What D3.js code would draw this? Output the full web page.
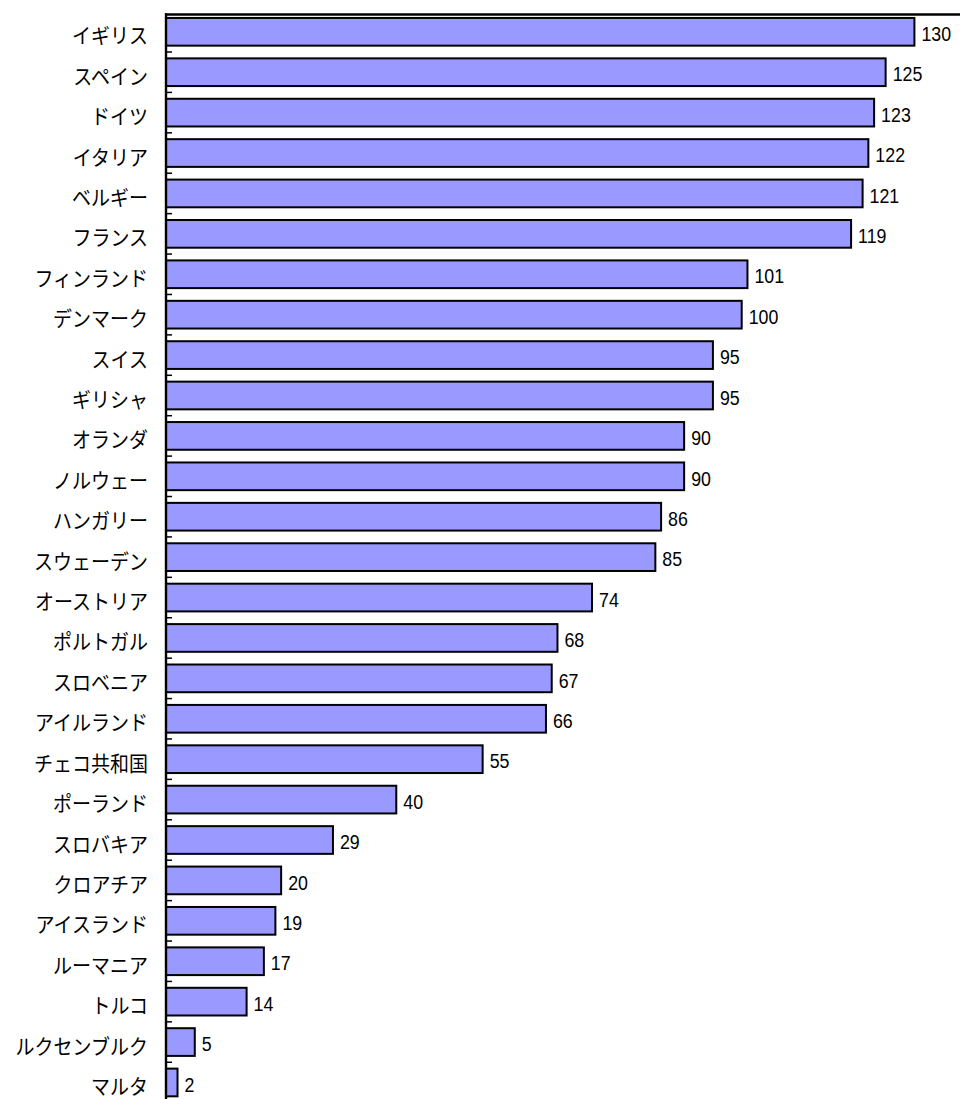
<!DOCTYPE html>
<html>
<head>
<meta charset="utf-8">
<script src="https://cdn.jsdelivr.net/npm/d3@7"></script>
<style>
  html, body { margin: 0; padding: 0; background: #ffffff; }
  svg { display: block; }
</style>
</head>
<body>
<svg id="chart" width="960" height="1099"></svg>
<script>
// Countries, top to bottom
const countries = [
  "イギリス", "スペイン", "ドイツ", "イタリア", "ベルギー", "フランス",
  "フィンランド", "デンマーク", "スイス", "ギリシャ", "オランダ", "ノルウェー",
  "ハンガリー", "スウェーデン", "オーストリア", "ポルトガル", "スロベニア",
  "アイルランド", "チェコ共和国", "ポーランド", "スロバキア", "クロアチア",
  "アイスランド", "ルーマニア", "トルコ", "ルクセンブルク", "マルタ"
];
// Value for each country
const values = [
  130, 125, 123, 122, 121, 119,
  101, 100, 95, 95, 90, 90,
  86, 85, 74, 68, 67,
  66, 55, 40, 29, 20,
  19, 17, 14, 5, 2
];

const data = countries.map((c, i) => ({ name: c, value: values[i] }));

const svg = d3.select("#chart");

const axisX = 166;
const plotTop = 11.6;
const step = 40.41;
const pad = 0.3145;

const y = d3.scaleBand()
  .domain(countries)
  .range([plotTop, plotTop + step * countries.length])
  .paddingInner(pad)
  .paddingOuter(pad / 2);

const x = d3.scaleLinear()
  .domain([0, 140])
  .range([axisX, axisX + 140 * 5.757]);

const textScaleY = 1.1;

// Bars
svg.append("g")
  .selectAll("rect")
  .data(data)
  .join("rect")
  .attr("x", x(0))
  .attr("y", d => y(d.name))
  .attr("width", d => x(d.value) - x(0))
  .attr("height", y.bandwidth())
  .attr("fill", "#9999ff")
  .attr("stroke", "#000000")
  .attr("stroke-width", 2);

// Tick marks between categories, pointing into the plot
const offset = y.step() * pad / 2;
svg.append("g")
  .selectAll("line")
  .data(countries.slice(1))
  .join("line")
  .attr("x1", axisX)
  .attr("x2", axisX + 6)
  .attr("y1", d => y(d) - offset)
  .attr("y2", d => y(d) - offset)
  .attr("stroke", "#000000")
  .attr("stroke-width", 1.5);

// Plot frame: top edge and category axis
svg.append("line")
  .attr("x1", axisX - 1).attr("x2", 960)
  .attr("y1", 14.5).attr("y2", 14.5)
  .attr("stroke", "#000000").attr("stroke-width", 2.5);

svg.append("line")
  .attr("x1", axisX).attr("x2", axisX)
  .attr("y1", 13.3).attr("y2", 1099)
  .attr("stroke", "#000000").attr("stroke-width", 2.4);

// Category labels
svg.append("g")
  .selectAll("g")
  .data(data)
  .join("g")
  .attr("transform", d => `translate(148,${y(d.name) + y.bandwidth() / 2 + 11.5}) scale(1,${textScaleY})`)
  .append("text")
  .attr("text-anchor", "end")
  .attr("font-family", "'Noto Sans CJK JP', sans-serif")
  .attr("font-size", 19)
  .attr("fill", "#000000")
  .text(d => d.name);

// Value labels
svg.append("g")
  .selectAll("g")
  .data(data)
  .join("g")
  .attr("transform", d => `translate(${x(d.value) + 7},${y(d.name) + y.bandwidth() / 2 + 9.2}) scale(1,1.12)`)
  .append("text")
  .attr("font-family", "'Liberation Sans', Arial, sans-serif")
  .attr("font-size", 17.8)
  .attr("fill", "#000000")
  .text(d => d.value);
</script>
</body>
</html>
